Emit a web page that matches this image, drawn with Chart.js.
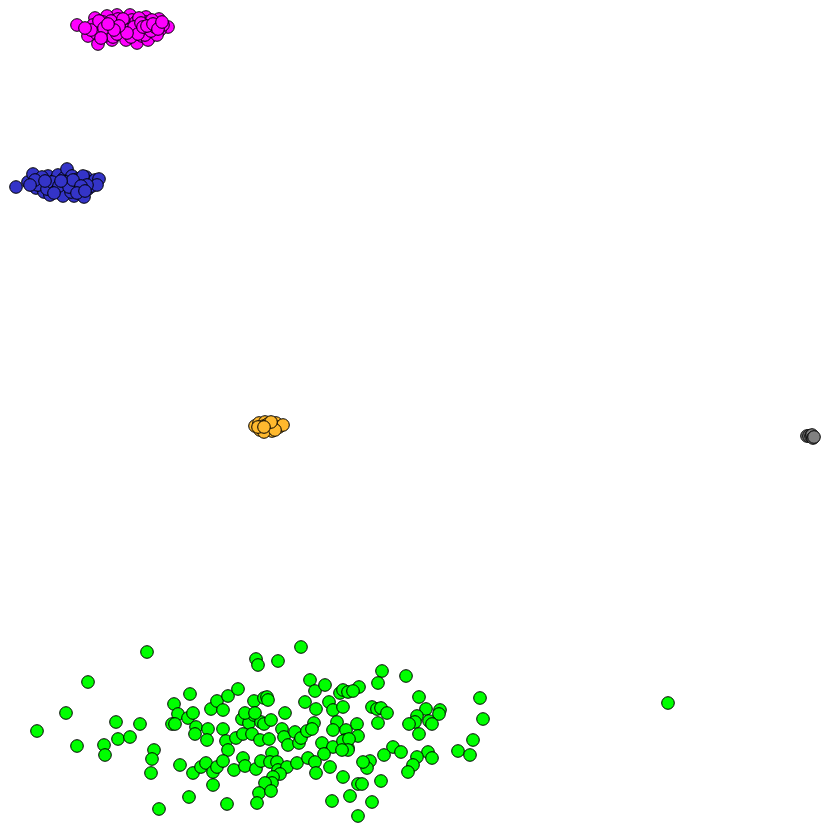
<!DOCTYPE html>
<html>
<head>
<meta charset="utf-8">
<script src="https://cdn.jsdelivr.net/npm/chart.js@4"></script>
<style>
html,body{margin:0;padding:0;background:#fff;}
#wrap{width:832px;height:832px;}
</style>
</head>
<body>
<div id="wrap"><canvas id="c" width="832" height="832"></canvas></div>
<script>
const magentaPoints = [[77,25],[88,36],[98,44],[112,40],[137,43],[150,37],[168,27],[159,19],[146,17],[130,15],[117,15],[107,16],[95,18],[93,25],
[100,30],[105,36],[110,27],[115,22],[120,30],[124,35],[128,25],[132,20],[135,31],[140,26],[142,36],[146,22],[150,28],[154,33],[156,24],[160,30],[103,22],[108,33],[113,37],[118,19],[122,25],[126,40],[131,37],[136,22],[139,18],[144,31],[148,40],[152,20],[157,35],[163,25],[96,33],[91,30],[85,28],[99,21],[104,28],[111,21],[117,34],[123,19],[129,30],[134,27],[141,23],[145,35],[151,31],[155,27],[138,34],[127,33],[119,26],[114,30],[108,24],[101,38],[143,27],[147,26],[153,24],[158,29],[162,22]];

const bluePoints = [[16,187],[28,182],[33,174],[36,188],[40,180],[44,192],[46,184],[48,176],[50,195],[53,188],[55,180],[58,175],[60,193],[62,185],[64,178],[67,169],[68,190],[70,183],[72,176],[74,196],[76,186],[78,179],[80,192],[82,183],[84,197],[86,177],[88,189],[90,182],[92,186],[95,180],[99,179],[97,185],[38,185],[42,177],[47,189],[52,182],[57,190],[63,196],[66,182],[71,192],[75,181],[79,188],[83,176],[87,185],[35,180],[45,181],[59,186],[69,187],[73,180],[81,186],[30,185],[54,193],[61,181],[77,193],[85,191]];

const orangePoints = [[255,426],[259,423],[262,428],[265,422],[267,430],[270,425],[273,428],[276,423],[279,427],[283,425],[264,426],[268,424],[272,431],[260,430],[264,432],[275,430],[258,427],[271,422],[264,427]];

const grayPoints = [[807,436],[809,436],[811,436],[812,435],[813,438],[814,437]];

const greenPoints = [[147,652],[88,682],[66,713],[37,731],[77,746],[116,722],[140,724],[118,739],[130,737],[104,745],[105,755],[154,750],[152,759],[151,773],[159,809],[180,765],[189,797],[227,804],
[190,694],[174,704],[178,714],[172,724],[175,724],[188,718],[193,713],[196,727],[195,734],[208,729],[207,740],[211,709],[217,701],[223,710],[228,696],[238,689],[223,729],[226,741],[228,750],[236,738],
[193,773],[201,767],[206,763],[213,772],[217,767],[223,761],[213,785],[234,770],[243,758],[245,766],[256,769],
[301,647],[256,659],[258,665],[278,661],[310,680],[315,691],[325,685],
[254,701],[264,698],[267,697],[268,700],[305,702],[316,709],[329,702],[333,710],[340,693],[343,690],[343,707],[348,692],
[285,713],[242,719],[249,723],[254,715],[261,722],[264,724],[271,720],
[243,734],[252,734],[260,740],[269,739],[282,729],[284,737],[288,745],[295,732],[299,743],[301,738],[307,731],[314,723],[312,729],[337,722],[333,730],[322,743],[333,747],[324,754],[346,730],[345,740],[348,748],
[261,761],[272,753],[270,762],[277,762],[278,770],[287,767],[297,763],[308,758],[315,762],[316,773],[330,767],[343,777],[280,774],[273,777],[272,783],[265,783],[259,793],[271,791],[257,803],[332,801],[350,796],
[382,671],[406,676],[378,683],[359,687],[353,691],[419,697],[480,698],[483,719],[372,707],[377,709],[381,708],[387,713],[378,723],[426,709],[440,710],[439,714],[417,716],[415,722],[409,724],[429,721],[432,724],[419,734],
[357,724],[358,736],[343,741],[349,739],[348,750],[342,750],[393,747],[384,755],[401,752],[428,752],[432,758],[417,757],[413,765],[408,772],[458,751],[470,755],[473,740],[370,761],[367,768],[363,762],[381,781],[358,784],[362,784],[372,802],[358,816],[668,703],[245,713],[255,713]];

const seriesNames = ['green','orange','gray','blue','magenta'];
const seriesColors = ['#00FF00','#FFB92E','#808080','#3434C8','#FF00FF'];
const seriesData = [greenPoints, orangePoints, grayPoints, bluePoints, magentaPoints];

const datasets = seriesData.map((pts, i) => ({
  label: seriesNames[i],
  data: pts.map(p => ({x: p[0], y: p[1]})),
  backgroundColor: seriesColors[i],
  borderColor: '#000000',
  borderWidth: 1,
  pointRadius: 6.3,
  pointHoverRadius: 6.3
}));

new Chart(document.getElementById('c'), {
  type: 'scatter',
  data: { datasets },
  options: {
    responsive: false,
    animation: false,
    events: [],
    layout: { padding: 0, autoPadding: false },
    plugins: { legend: { display: false }, tooltip: { enabled: false } },
    scales: {
      x: { display: false, min: 0, max: 832 },
      y: { display: false, min: 0, max: 832, reverse: true }
    }
  }
});
</script>
</body>
</html>
